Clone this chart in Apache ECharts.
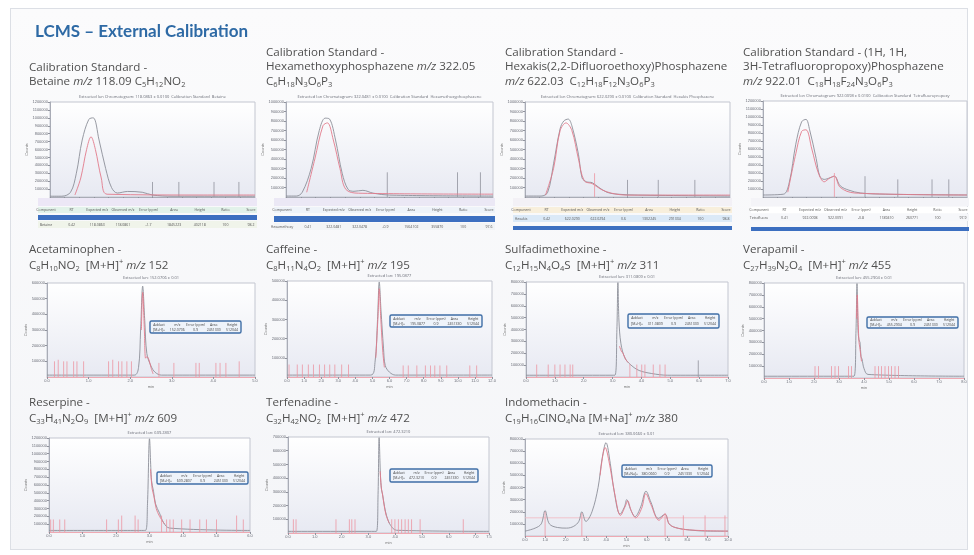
<!DOCTYPE html>
<html><head><meta charset="utf-8">
<script src="https://cdn.jsdelivr.net/npm/echarts@6/dist/echarts.min.js"></script>
<style>
html,body{margin:0;padding:0;background:#ffffff;}
#frame{position:absolute;left:10px;top:8px;width:956px;height:540px;border:1px solid #dcdfe5;background:linear-gradient(#fbfbfc,#f4f5f8);}
#c{position:absolute;left:0;top:0;width:974px;height:555px;}
</style>
</head><body><div id="frame"></div><div id="c"></div>
<script>
// ---------- text ----------
const mainTitle = 'LCMS – External Calibration';
const panelTitles = [
  'Calibration Standard -\nBetaine {it|m/z} 118.09 C{s|5}H{s|12}NO{s|2}',
  'Calibration Standard -\nHexamethoxyphosphazene {it|m/z} 322.05\nC{s|6}H{s|18}N{s|3}O{s|6}P{s|3}',
  'Calibration Standard -\nHexakis(2,2-Difluoroethoxy)Phosphazene\n{it|m/z} 622.03  C{s|12}H{s|18}F{s|12}N{s|3}O{s|6}P{s|3}',
  'Calibration Standard - (1H, 1H,\n3H-Tetrafluoropropoxy)Phosphazene\n{it|m/z} 922.01  C{s|18}H{s|18}F{s|24}N{s|3}O{s|6}P{s|3}',
  'Acetaminophen -\nC{s|8}H{s|10}NO{s|2}  [M+H]{p|+} {it|m/z} 152',
  'Caffeine -\nC{s|8}H{s|11}N{s|4}O{s|2}  [M+H]{p|+} {it|m/z} 195',
  'Sulfadimethoxine -\nC{s|12}H{s|15}N{s|4}O{s|4}S  [M+H]{p|+} {it|m/z} 311',
  'Verapamil -\nC{s|27}H{s|39}N{s|2}O{s|4}  [M+H]{p|+} {it|m/z} 455',
  'Reserpine -\nC{s|33}H{s|41}N{s|2}O{s|9}  [M+H]{p|+} {it|m/z} 609',
  'Terfenadine -\nC{s|32}H{s|42}NO{s|2}  [M+H]{p|+} {it|m/z} 472',
  'Indomethacin -\nC{s|19}H{s|16}ClNO{s|4}Na [M+Na]{p|+} {it|m/z} 380'
];
const plotHeaders = [
  'Extracted Ion Chromatogram: 118.0863 ± 0.0100  Calibration Standard  Betaine',
  'Extracted Ion Chromatogram: 322.0481 ± 0.0100  Calibration Standard  Hexamethoxyphosphazene',
  'Extracted Ion Chromatogram: 622.0290 ± 0.0100  Calibration Standard  Hexakis Phosphazene',
  'Extracted Ion Chromatogram: 922.0098 ± 0.0100  Calibration Standard  Tetrafluoropropoxy',
  'Extracted Ion: 152.0706 ± 0.01',
  'Extracted Ion: 195.0877',
  'Extracted Ion: 311.0809 ± 0.01',
  'Extracted Ion: 455.2904 ± 0.01',
  'Extracted Ion: 609.2807',
  'Extracted Ion: 472.3210',
  'Extracted Ion: 380.0660 ± 0.01'
];
const boxAdducts = ['[M+H]+','[M+H]+','[M+H]+','[M+H]+','[M+H]+','[M+H]+','[M+Na]+'];
const boxValues = ['152.0706','195.0877','311.0809','455.2904','609.2807','472.3210','380.0660'];

// ---------- axes (min, max, interval) ----------
const xAxisRanges = [[0,14,1],[0,14,1],[0,14,1],[0,14,1],[0,5,1],[0,12,1],[0,7,1],[0,8,1],[0,6,1],[0,7.5,1],[0,10,1]];
const yAxisRanges = [[0,12,1],[0,10,1],[0,10,1],[0,12,1],[0,6,1],[0,5,1],[0,8,1],[0,8,1],[0,12,1],[0,7,1],[0,8,1]];

// ---------- data: row 1 chromatograms ----------
const betaineGrey = [[0,0.1],[0.8,0.1],[1.4,0.6],[1.8,3.0],[2.2,7.2],[2.65,9.8],[2.95,10.0],[3.35,7.2],[3.8,3.6],[4.2,1.2],[4.6,0.5],[5.3,0.7],[6.3,0.6],[7.0,0.25],[8.4,0.1],[14,0.1]];
const betaineRed = [[1.7,0.25],[2.1,2.4],[2.5,6.0],[2.8,7.6],[3.1,6.0],[3.5,2.4],[3.9,0.35],[10.5,0.25],[14,0.25]];
const betaineSpikesGrey = [[7.0,1.9],[8.8,1.9],[11.2,1.9],[12.9,1.9]];

const hexaGrey = [[0,0.1],[0.7,0.1],[1.1,0.5],[1.7,3.0],[2.25,7.0],[2.65,8.3],[2.95,8.2],[3.35,6.0],[3.8,2.5],[4.2,0.8],[4.6,0.6],[5.2,0.7],[5.9,0.4],[7,0.2],[14,0.1]];
const hexaRed = [[1.4,0.5],[1.95,4.0],[2.5,7.5],[2.8,7.8],[3.2,6.0],[3.65,3.0],[4.05,0.8],[4.9,0.4],[14,0.3]];
const hexaSpikesGrey = [[6.85,2.6],[11.6,2.6],[13.15,2.6]];

const difluoroGrey = [[0,0.1],[1.1,0.1],[1.55,0.5],[1.95,3.5],[2.4,7.2],[2.65,8.0],[2.95,8.2],[3.2,7.5],[3.65,4.5],[3.9,2.0],[4.2,1.6],[4.6,1.5],[5.05,1.0],[5.6,0.5],[6.3,0.3],[7.7,0.2],[14,0.1]];
const difluoroRed = [[1.4,0.2],[1.95,3.0],[2.4,7.0],[2.8,7.8],[3.2,7.0],[3.65,4.0],[4.05,1.7],[4.6,1.4],[5.2,0.8],[5.9,0.4],[7,0.2],[14,0.2]];
const difluoroSpikesRed = [[4.75,2.5]];
const difluoroSpikesGrey = [[7.0,1.8],[9.1,1.8],[11.6,1.8]];

const tetraGrey = [[0,0.25],[1.4,0.35],[1.8,1.8],[2.25,6.6],[2.65,9.4],[2.95,9.7],[3.2,8.4],[3.65,4.8],[3.9,2.6],[4.2,2.2],[4.6,2.4],[4.9,2.6],[5.3,1.4],[5.9,0.85],[6.7,0.5],[8.4,0.35],[14,0.25]];
const tetraRed = [[1.7,0.6],[2.25,5.4],[2.65,8.2],[2.95,8.4],[3.35,6.0],[3.8,3.0],[4.2,1.9],[4.6,2.4],[4.9,2.6],[5.3,1.2],[6.3,0.5],[14,0.25]];
const tetraSpikesRed = [[4.9,3.0]];
const tetraSpikesGrey = [[7.0,2.6],[9.25,2.2],[11.6,2.2],[12.75,2.2]];

// ---------- data: rows 2-3 ----------
const acetaGrey = [[0,0.12],[2.1,0.12],[2.2,0.6],[2.25,3.0],[2.3,5.8],[2.35,3.6],[2.4,1.5],[2.5,0.7],[2.6,0.3],[2.75,0.12],[5,0.12]];
const acetaRed = [[2.27,3.0],[2.3,5.4],[2.34,3.0],[2.37,1.2],[2.4,1.3],[2.45,1.1],[2.5,0.6],[2.55,0.2]];
const acetaSpikes = [[0.18,1.0],[0.27,1.1],[0.4,1.0],[0.48,1.0],[0.64,1.0],[0.72,1.0],[0.88,1.0],[1.48,1.0],[1.58,1.1],[1.72,1.0],[1.8,1.0],[1.92,1.0],[2.03,1.0],[2.69,0.9],[3.05,0.9],[3.58,0.9],[3.66,0.9],[4.06,0.9],[4.16,0.9],[4.3,0.9],[4.62,1.0]];

const caffeineGrey = [[0,0.1],[4.9,0.1],[5.15,0.75],[5.3,3.0],[5.4,4.95],[5.5,3.5],[5.65,1.5],[5.75,0.6],[6.0,0.25],[6.35,0.1],[12,0.1]];
const caffeineRed = [[5.2,1.0],[5.33,3.2],[5.4,4.6],[5.48,3.2],[5.6,1.4],[5.7,0.5]];
const caffeineSpikes = [[0.12,0.65],[0.6,0.65],[0.9,0.65],[1.25,0.65],[1.55,0.65],[1.9,0.65],[2.2,0.65],[2.5,0.65],[2.8,0.65],[3.2,0.65],[3.6,0.65],[6.8,0.6],[7.1,0.6],[7.6,0.6],[8.1,0.6],[8.4,0.6],[8.65,0.6],[8.95,0.6],[9.35,0.6],[10.7,0.6],[11.1,0.6]];

const sulfaGrey = [[0,0.15],[3.08,0.15],[3.15,4.0],[3.185,7.95],[3.22,4.8],[3.29,2.8],[3.43,1.6],[3.64,1.0],[3.92,0.55],[4.34,0.3],[4.9,0.15],[7,0.15]];
const sulfaRed = [[3.24,2.6],[3.3,2.2],[3.36,2.0],[3.45,1.5],[3.55,1.2]];
const sulfaSpikes = [[0.37,1.05],[0.77,1.05],[1.0,1.05],[1.18,1.05],[1.35,1.05],[1.53,1.05],[1.62,1.05],[3.6,1.1],[3.84,1.05],[4.01,1.05],[4.12,1.05],[4.41,1.05],[4.64,1.05],[4.82,1.05]];
const sulfaSpikesGrey = [[5.97,1.4]];

const verapamilGrey = [[0,0.15],[3.6,0.15],[3.68,4.0],[3.72,7.95],[3.76,4.0],[3.8,3.2],[3.84,3.0],[3.88,1.8],[3.92,1.6],[4.0,0.8],[4.16,0.3],[8,0.15]];
const verapamilRed = [[3.7,5.0],[3.73,7.0],[3.77,4.5],[3.8,3.0],[3.83,2.6],[3.9,1.4]];
const verapamilSpikes = [[2.04,1.0],[2.18,1.0],[2.7,1.0],[2.84,1.0],[2.98,1.0],[3.38,1.0],[3.5,1.0],[4.44,1.0],[4.58,1.0],[4.7,1.0],[4.84,1.0],[4.98,1.0],[5.1,1.0],[5.24,1.0],[5.38,1.0]];

const reserpineGrey = [[0,0.2],[2.88,0.2],[2.94,3.6],[3.0,11.9],[3.06,6.6],[3.12,5.2],[3.18,3.6],[3.3,2.4],[3.42,1.2],[3.6,0.5],[6,0.2]];
const reserpineRed = [[3.03,8.0],[3.08,5.5],[3.13,4.6],[3.2,3.0],[3.3,2.0],[3.45,1.0]];
const reserpineSpikes = [[0.05,1.6],[0.13,1.6],[0.32,1.6],[0.47,1.6],[1.72,1.6],[2.07,1.6],[2.17,2.1],[2.57,2.1],[2.66,1.6],[3.36,2.1],[3.51,1.6],[3.61,1.6],[3.71,1.6],[3.96,1.6],[4.21,1.6],[4.5,1.6],[4.7,1.6],[5.0,1.6],[5.6,2.1],[5.8,1.6]];

const terfenadineGrey = [[0,0.12],[3.3,0.12],[3.36,2.8],[3.4,6.95],[3.45,4.2],[3.49,3.15],[3.53,2.8],[3.6,1.95],[3.68,1.25],[3.83,0.55],[4.05,0.2],[7.5,0.12]];
const terfenadineRed = [[3.44,4.5],[3.48,3.3],[3.52,2.9],[3.58,2.1],[3.66,1.3],[3.78,0.7]];
const terfenadineSpikes = [[0.2,1.0],[0.3,1.0],[1.79,1.0],[2.29,1.0],[2.38,1.0],[2.5,1.0],[3.87,1.0],[3.99,1.0],[4.12,1.0],[4.24,1.0],[4.37,1.0],[4.49,1.0],[4.61,1.0],[4.93,1.0],[6.54,1.0]];

const indoGrey = [[0,0.4],[0.5,0.65],[0.8,1.0],[0.99,2.1],[1.2,1.0],[1.6,0.7],[2.05,0.65],[2.4,0.8],[2.65,1.2],[2.8,2.0],[3.0,1.2],[3.3,2.0],[3.6,4.0],[3.8,6.4],[3.99,7.7],[4.2,6.0],[4.4,3.6],[4.68,1.8],[4.9,2.4],[5.01,3.0],[5.2,2.2],[5.42,1.6],[5.7,2.4],[5.96,3.7],[6.2,2.8],[6.57,1.45],[6.9,1.8],[7.1,1.0],[7.4,0.7],[8.1,0.5],[9.0,0.4],[10,0.4]];
const indoRed = [[3.7,5.0],[3.95,7.3],[4.2,5.6],[4.45,3.2],[4.7,1.7],[4.95,2.5],[5.05,2.9],[5.25,2.0],[5.45,1.5],[5.75,2.3],[5.95,3.5],[6.2,2.6],[6.6,1.3],[6.9,1.8],[7.1,1.0],[7.4,0.7],[8.1,0.5],[10,0.4]];
const indoSpikes = [[0.99,2.0],[2.8,1.9],[6.9,1.9],[7.8,1.7],[8.87,1.7],[9.85,1.7]];
const indoBaseline = [[0,1.5],[10,1.5]];

const greyTraces = [betaineGrey,hexaGrey,difluoroGrey,tetraGrey,acetaGrey,caffeineGrey,sulfaGrey,verapamilGrey,reserpineGrey,terfenadineGrey,indoGrey];
const redTraces = [betaineRed,hexaRed,difluoroRed,tetraRed,acetaRed,caffeineRed,sulfaRed,verapamilRed,reserpineRed,terfenadineRed,indoRed];
const redSpikes = [[],[],difluoroSpikesRed,tetraSpikesRed,acetaSpikes,caffeineSpikes,sulfaSpikes,verapamilSpikes,reserpineSpikes,terfenadineSpikes,indoSpikes];
const greySpikes = [betaineSpikesGrey,hexaSpikesGrey,difluoroSpikesGrey,tetraSpikesGrey,[],[],sulfaSpikesGrey,[],[],[],[]];

// ---------- layout ----------
const gridLayout = [
  {left:50, top:102, width:205, height:95},
  {left:286, top:102, width:207, height:95},
  {left:525, top:102, width:205, height:95},
  {left:763, top:101, width:204, height:96},
  {left:47, top:283, width:208, height:94},
  {left:287, top:281, width:205, height:96},
  {left:526, top:282, width:202, height:95},
  {left:764, top:283, width:200, height:95},
  {left:49, top:438, width:201, height:94},
  {left:288, top:437, width:201, height:96},
  {left:525, top:439, width:203, height:97}
];
const titlePos = [[29,60],[266,45],[505,45],[743,45],[29,242],[266,242],[505,242],[743,242],[29,395],[266,395],[505,395]];
const boxPos = [[150,321,91,12],[390,315,92,12],[628,314,91,14],[867,317,91,11],[157,472,91,12],[390,469,88,13],[622,465,90,12]];

const FONT = '"Open Sans", sans-serif';
const TXT = '#505050';
const TFS = 11.6;

function spikeLine(arr){
  const out = [];
  arr.forEach(p => { out.push([p[0],0]); out.push([p[0],p[1]]); out.push([p[0],'-']); });
  return out;
}

const titles = [{
  text: mainTitle, left: 30, top: 18,
  textStyle: {fontFamily: 'Lato, sans-serif', fontSize: 17, fontWeight: 'bold', color: '#2e6aa5'}
}];
const richStyles = {
  s: {fontFamily: FONT, fontSize: 7.5, lineHeight: 8, verticalAlign: 'bottom', color: TXT},
  p: {fontFamily: FONT, fontSize: 7.5, lineHeight: 8, verticalAlign: 'top', color: TXT},
  it: {fontFamily: FONT, fontSize: TFS, lineHeight: 14.5, fontStyle: 'italic', color: TXT}
};
panelTitles.forEach((t, i) => {
  titles.push({
    text: t, left: titlePos[i][0], top: titlePos[i][1], padding: 0,
    textStyle: {fontFamily: FONT, fontSize: TFS, lineHeight: i < 4 ? 14.5 : 15.5, color: TXT, fontWeight: 'normal', rich: richStyles}
  });
});

const grids = [], xAxes = [], yAxes = [], series = [], graphics = [];
gridLayout.forEach((g, i) => {
  grids.push({
    left: g.left, top: g.top, width: g.width, height: g.height, show: true,
    backgroundColor: new echarts.graphic.LinearGradient(0,0,0,1,[{offset:0,color:'#ffffff'},{offset:1,color:'#e7e9f2'}]),
    borderColor: '#c3c6d0', borderWidth: 1
  });
  const xr = xAxisRanges[i], yr = yAxisRanges[i];
  const row1 = i < 4;
  xAxes.push({
    gridIndex: i, type: 'value', min: xr[0], max: xr[1], interval: xr[2],
    axisLine: {lineStyle: {color: row1 ? '#a9acb6' : '#eea9b3', width: 1}},
    axisTick: {show: true, length: 2, lineStyle: {color: '#8f929c'}},
    axisLabel: {fontSize: 4, color: '#6b6e78', margin: 2, showMaxLabel: !row1, formatter: v => row1 ? v.toFixed(2) : v.toFixed(1)},
    splitLine: {show: false},
    name: row1 ? '' : 'min', nameLocation: 'middle', nameGap: 8, nameTextStyle: {fontSize: 4, color: '#777'}
  });
  yAxes.push({
    gridIndex: i, type: 'value', min: yr[0], max: yr[1], interval: yr[2],
    axisLine: {show: true, lineStyle: {color: '#a9acb6'}},
    axisTick: {show: true, length: 2, lineStyle: {color: '#8f929c'}},
    axisLabel: {fontSize: 4, color: '#6b6e78', margin: 2, showMinLabel: false, formatter: v => String(Math.round(v * 100000))},
    splitLine: {show: false},
    name: 'Counts', nameLocation: 'middle', nameGap: 15, nameRotate: 90, nameTextStyle: {fontSize: 4, color: '#777'}
  });
  series.push({
    type: 'line', xAxisIndex: i, yAxisIndex: i, data: greyTraces[i], smooth: 0.35, showSymbol: false,
    lineStyle: {color: '#8c8e99', width: 0.9}, animation: false, z: 3
  });
  series.push({
    type: 'line', xAxisIndex: i, yAxisIndex: i, data: redTraces[i], smooth: 0.35, showSymbol: false,
    lineStyle: {color: '#e27b8b', width: 0.9}, animation: false, z: 4
  });
  if (redSpikes[i].length) series.push({
    type: 'line', xAxisIndex: i, yAxisIndex: i, data: spikeLine(redSpikes[i]), showSymbol: false, connectNulls: false,
    lineStyle: {color: '#ec95a2', width: 0.8}, animation: false, z: 4
  });
  if (greySpikes[i].length) series.push({
    type: 'line', xAxisIndex: i, yAxisIndex: i, data: spikeLine(greySpikes[i]), showSymbol: false, connectNulls: false,
    lineStyle: {color: '#9a9ca6', width: 0.9}, animation: false, z: 3
  });
  if (i === 10) series.push({
    type: 'line', xAxisIndex: i, yAxisIndex: i, data: indoBaseline, showSymbol: false,
    lineStyle: {color: '#f2b8c0', width: 0.8}, animation: false, z: 2
  });
  graphics.push({
    type: 'text', x: g.left + g.width / 2, y: g.top - 3, z: 10,
    style: {text: plotHeaders[i], fontSize: 4, fontFamily: FONT, fill: '#6a6d77', align: 'center', verticalAlign: 'bottom'}
  });
});

// row-1 result tables
const tableHead = ['Component','RT','Expected m/z','Observed m/z','Error (ppm)','Area','Height','Ratio','Score'];
const tableRowVals = [
  ['Betaine','0.42','118.0863','118.0861','-1.7','1845223','402118','100','98.2'],
  ['Hexamethoxy','0.41','322.0481','322.0478','-0.9','1564102','355870','100','97.6'],
  ['Hexakis','0.42','622.0290','622.0294','0.6','1302245','291334','100','98.8'],
  ['Tetrafluoro','0.41','922.0098','922.0091','-0.8','1189410','260771','100','97.9']
];
const tableStyles = [
  {band:'#ece7f6', head:'#e2f2ea', bar:[215,5], row:'#f0f4ea', rowY:221},
  {band:'#ebe8f5', head:'#eef3f9', bar:[216,6], row:'#f2f4f6', rowY:223},
  {band:'#f3f1f6', head:'#f8efdc', bar:[226,4], row:'#dbe9f7', rowY:215},
  {band:'#f4f4f8', head:'#ffffff', bar:[227,4], row:'#f6f7fa', rowY:214}
];
for (let i = 0; i < 4; i++) {
  const g = gridLayout[i], st = tableStyles[i];
  const x0 = g.left - 12, w = g.width + 14;
  graphics.push({type:'rect', z: 1, shape:{x: x0, y: g.top + g.height + 1, width: w, height: 8}, style:{fill: st.band}});
  graphics.push({type:'rect', z: 10, shape:{x: x0, y: 207, width: w, height: 6}, style:{fill: st.head}});
  graphics.push({type:'rect', z: 10, shape:{x: x0, y: st.rowY, width: w, height: 7}, style:{fill: st.row}});
  graphics.push({type:'rect', z: 11, shape:{x: x0, y: st.bar[0], width: w, height: st.bar[1]}, style:{fill: '#3c6fc0'}});
  tableHead.forEach((h, k) => {
    const cx = x0 + 8 + k * (w - 14) / (tableHead.length - 1);
    graphics.push({type:'text', z: 12, x: cx, y: 210, style:{text: h, fontSize: 3.5, fill:'#555', align:'center', verticalAlign:'middle', fontFamily: FONT}});
    graphics.push({type:'text', z: 12, x: cx, y: st.rowY + 3.5, style:{text: tableRowVals[i][k], fontSize: 3.5, fill:'#555', align:'center', verticalAlign:'middle', fontFamily: FONT}});
  });
}

// legend boxes rows 2-3
const boxHead = ['Adduct','m/z','Error (ppm)','Area','Height'];
boxPos.forEach((b, k) => {
  graphics.push({type:'rect', z: 12, shape:{x: b[0], y: b[1], width: b[2], height: b[3], r: 1.5},
    style:{fill:'#eef3fa', stroke:'#3f6ea6', lineWidth: 1.4}});
  const vals = [boxAdducts[k], boxValues[k], '0.9', '2451330', '512044'];
  boxHead.forEach((h, j) => {
    const cx = b[0] + 9 + j * (b[2] - 18) / (boxHead.length - 1);
    graphics.push({type:'text', z: 13, x: cx, y: b[1] + b[3] * 0.3, style:{text: h, fontSize: 3.5, fill:'#444', align:'center', verticalAlign:'middle', fontFamily: FONT}});
    graphics.push({type:'text', z: 13, x: cx, y: b[1] + b[3] * 0.72, style:{text: vals[j], fontSize: 3.5, fill:'#444', align:'center', verticalAlign:'middle', fontFamily: FONT}});
  });
});

const chart = echarts.init(document.getElementById('c'), null, {renderer: 'canvas'});
chart.setOption({
  backgroundColor: 'transparent',
  animation: false,
  title: titles,
  grid: grids,
  xAxis: xAxes,
  yAxis: yAxes,
  series: series,
  graphic: graphics
});
</script>
</body></html>
